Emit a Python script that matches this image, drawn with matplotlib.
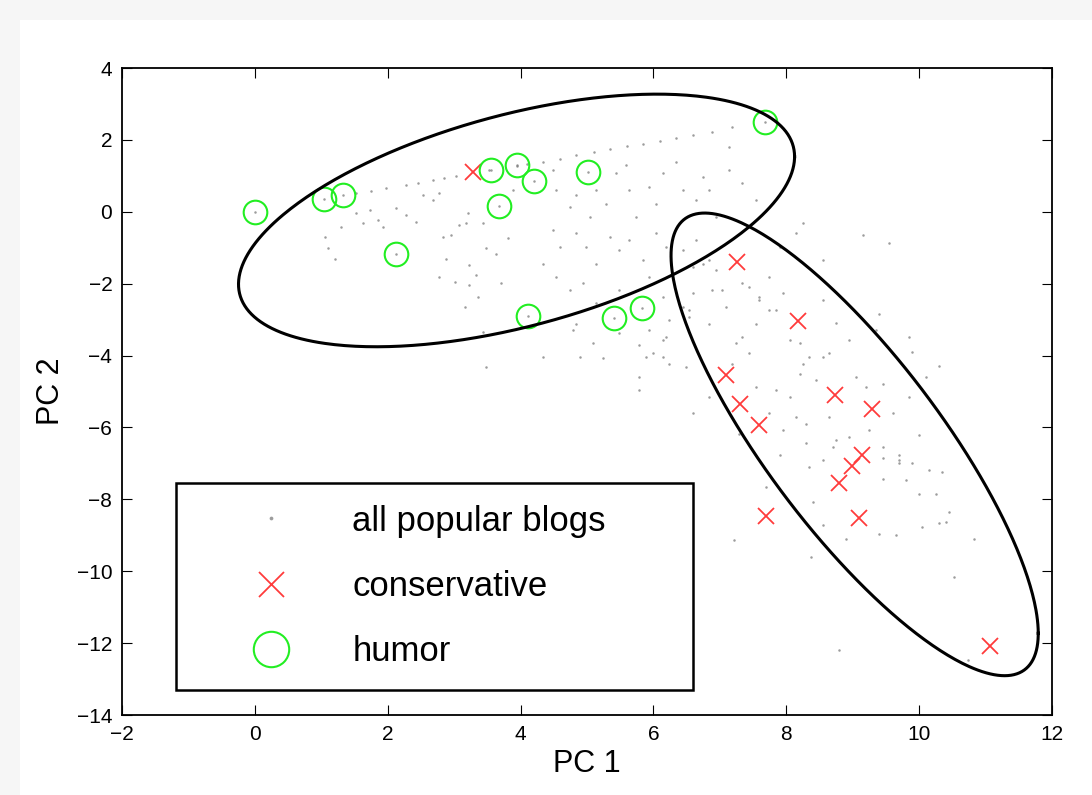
import numpy as np
import matplotlib
matplotlib.use("Agg")
import matplotlib.pyplot as plt
from matplotlib.patches import Rectangle

plt.rcParams['font.family'] = ['Liberation Sans', 'DejaVu Sans']

# all popular blogs (tiny grey dots)
blogs_x = [1.53, 1.75, 1.98, 2.28, 2.45, 2.68, 2.85, 3.03, 3.53, 3.94, 4.10, 4.34, 4.60, 4.84,
           5.10, 5.34, 5.60, 5.84, 6.10, 6.34, 6.60, 6.89, 7.19,
           1.05, 1.10, 1.20, 1.30, 1.53, 1.63, 1.73, 1.85, 1.93, 2.13, 2.28, 2.43, 2.53, 2.68,
           2.78, 2.83, 2.96, 3.08, 3.18, 3.21, 3.23, 3.33, 3.23, 3.36, 3.48, 3.63, 3.71, 3.81,
           3.88, 2.78, 2.88, 3.01, 3.16, 3.43,
           4.49, 4.54, 4.74, 4.84, 5.04, 5.14, 5.29, 5.44, 5.59, 5.64, 5.74, 5.94, 6.04, 6.14,
           6.34, 6.44, 6.64, 6.74, 6.84, 6.94, 7.14, 7.14, 7.34, 7.54, 4.49, 4.59, 4.84, 4.99,
           5.14, 5.34, 5.49, 5.64, 5.84, 6.04, 6.19, 4.34, 4.54, 4.74, 4.94, 5.14, 5.49, 5.94,
           6.14, 6.64, 6.74, 6.94, 7.04, 7.34, 7.59, 7.74, 7.84, 7.54, 7.24, 6.84, 6.44, 4.84,
           5.09, 5.94, 6.24, 8.15, 8.25, 7.90,
           3.43, 3.48, 4.34, 4.79, 4.89, 5.24, 5.49, 5.79, 5.89, 5.99, 6.14, 6.49, 5.79, 5.79,
           6.19, 6.54, 6.59,
           6.44, 6.59, 6.84, 6.89, 7.09, 7.44, 7.59, 7.74, 7.95, 8.05, 8.20, 8.35, 8.55, 8.65,
           8.25, 8.20, 8.45, 7.85, 8.05, 8.15, 8.30, 8.65, 8.75, 8.95, 9.20, 9.45, 9.05, 9.25,
           9.45, 9.70, 9.85, 9.40, 9.35, 8.55, 8.95, 8.75, 7.34, 7.44, 7.19, 7.54, 7.74, 7.95,
           8.30, 8.55, 6.54, 6.14, 6.24, 6.59, 6.84, 7.29, 9.85, 9.15, 9.55, 8.55,
           7.90, 8.35, 8.70, 9.45, 9.70, 9.80, 10.00, 10.25, 10.35, 10.15, 10.30, 10.40, 10.45,
           10.05, 9.40, 9.65, 8.90, 8.55, 8.40, 7.70, 7.22, 8.37, 10.53, 10.83, 8.80, 10.73,
           9.45, 9.70, 9.90, 10.10, 9.60, 10.00, 9.90, 10.30]
blogs_y = [0.51, 0.58, 0.65, 0.74, 0.80, 0.88, 0.93, 0.99, 1.16, 1.27, 1.32, 1.39, 1.48, 1.58,
           1.66, 1.74, 1.82, 1.90, 1.98, 2.06, 2.14, 2.23, 2.35,
           -0.69, -1.02, -1.30, -0.42, -0.04, -0.30, 0.05, -0.23, -0.42, 0.10, -0.09, -0.28, 0.47,
           0.33, 0.51, -0.69, -0.65, -0.37, -0.32, -0.04, -1.48, -1.76, -2.04, -2.36, -1.02,
           -1.16, -1.99, -0.74, 0.61, -1.81, -1.30, -1.95, -2.64, -0.32,
           1.16, 0.60, 0.14, 0.47, -0.14, 0.60, 0.23, 1.07, 1.30, 0.60, -0.14, 0.70, 0.23, 1.07,
           1.39, 0.60, 0.33, 0.98, 0.60, -0.14, 1.16, 1.81, 0.79, 0.33, -0.51, -0.97, -0.60,
           -0.97, -1.44, -0.69, -1.06, -0.79, -1.34, -0.60, -0.97, -1.44, -1.81, -2.18, -1.99,
           -2.55, -2.18, -1.81, -2.36, -0.79, -1.44, -1.62, -2.18, -1.99, -2.36, -1.81, -2.74,
           -3.11, -3.66, -3.11, -2.64, -3.11, -3.66, -3.29, -3.01, -0.60, -0.32, -0.97,
           -3.34, -4.31, -4.03, -3.29, -4.03, -4.08, -3.38, -3.71, -4.03, -3.94, -4.03, -4.31,
           -4.59, -4.96, -3.48, -2.73, -2.27,
           -1.06, -1.53, -1.34, -2.18, -2.64, -2.08, -2.46, -2.73, -2.27, -3.57, -3.66, -4.03,
           -4.03, -3.94, -4.22, -4.50, -4.68, -4.96, -5.15, -5.70, -5.89, -5.70, -6.35, -6.26,
           -4.87, -4.78, -4.59, -6.07, -6.54, -6.91, -5.15, -2.83, -3.29, -2.46, -3.57, -3.10,
           -3.48, -3.94, -4.22, -4.87, -5.61, -6.07, -6.44, -6.91, -2.92, -3.57, -4.22, -5.61,
           -5.15, -6.17, -3.48, -0.65, -0.88, -1.34,
           -6.77, -7.09, -6.54, -6.86, -6.77, -7.46, -7.84, -7.84, -7.23, -7.19, -8.67, -8.62,
           -8.35, -8.76, -8.95, -8.99, -9.09, -8.72, -8.07, -7.65, -9.13, -9.60, -10.15, -9.09,
           -12.20, -12.47, -7.42, -7.00, -3.90, -4.60, -5.60, -6.20, -7.00, -4.30]

# conservative blogs
cons_x = [3.28, 7.26, 8.17, 7.10, 7.31, 7.59, 8.74, 9.29, 9.14, 8.99, 8.80, 7.70, 9.10, 11.07]
cons_y = [1.11, -1.40, -3.04, -4.54, -5.35, -5.93, -5.10, -5.49, -6.77, -7.07, -7.55, -8.47,
          -8.52, -12.08]

# humor blogs
humor_x = [0.00, 1.04, 1.32, 2.12, 3.55, 3.95, 4.21, 3.68, 5.01, 7.68, 4.12, 5.40, 5.83]
humor_y = [0.00, 0.36, 0.47, -1.18, 1.16, 1.30, 0.86, 0.16, 1.11, 2.50, -2.90, -2.96, -2.68]

# ellipses: centre and covariance-like shape matrix (data units)
ell_centers = [(3.94, -0.24), (9.03, -6.47)]
ell_shapes = [[[17.52, 7.43], [7.43, 12.35]],
              [[7.64, -14.53], [-14.53, 41.42]]]

fig = plt.figure(figsize=(10.92, 7.95), dpi=100, facecolor='#f6f6f6')
fig.patches.append(Rectangle((20 / 1092, 0), 1, 775 / 795, transform=fig.transFigure,
                             facecolor='white', edgecolor='none', zorder=-10))
ax = fig.add_axes([0.1117, 0.1006, 0.8516, 0.8138])
ax.set_zorder(5)

ax.plot(blogs_x + humor_x, blogs_y + humor_y, linestyle='None', marker='o', markersize=1.8,
        markeredgewidth=0, color='0.45', alpha=0.7, label='all popular blogs')
ax.plot(cons_x, cons_y, linestyle='None', marker='x', markersize=12, markeredgewidth=1.3,
        color='#ff3b3b', label='conservative')
ax.plot(humor_x, humor_y, linestyle='None', marker='o', markersize=17, markeredgewidth=1.5,
        markerfacecolor='none', markeredgecolor='#22ee22', label='humor')

t = np.linspace(0, 2 * np.pi, 400)
for c, s in zip(ell_centers, ell_shapes):
    L = np.linalg.cholesky(np.array(s))
    pts = np.array(c)[:, None] + L @ np.vstack([np.cos(t), np.sin(t)])
    ax.plot(pts[0], pts[1], color='black', linewidth=2.2)

ax.set_xlim(-2, 12)
ax.set_ylim(-14, 4)
ax.set_xticks(np.arange(-2, 13, 2))
ax.set_yticks(np.arange(-14, 5, 2))
ax.tick_params(direction='in', length=7, width=0.8, top=True, right=True, labelsize=15, pad=7)
for sp in ax.spines.values():
    sp.set_linewidth(1.3)
ax.set_xlabel('PC 1', fontsize=22, labelpad=4)
ax.set_ylabel('PC 2', fontsize=22, labelpad=8)

leg = ax.legend(loc='lower left', bbox_to_anchor=(0.0581, 0.0386, 0.556, 0.320), mode='expand',
                borderaxespad=0, fontsize=25, markerscale=1.5, handlelength=4.2,
                handletextpad=0.25, labelspacing=0.93, borderpad=0.63, fancybox=False,
                framealpha=1, edgecolor='black')
leg.get_frame().set_linewidth(1.8)

plt.savefig('out.png', dpi=100, facecolor=fig.get_facecolor())
